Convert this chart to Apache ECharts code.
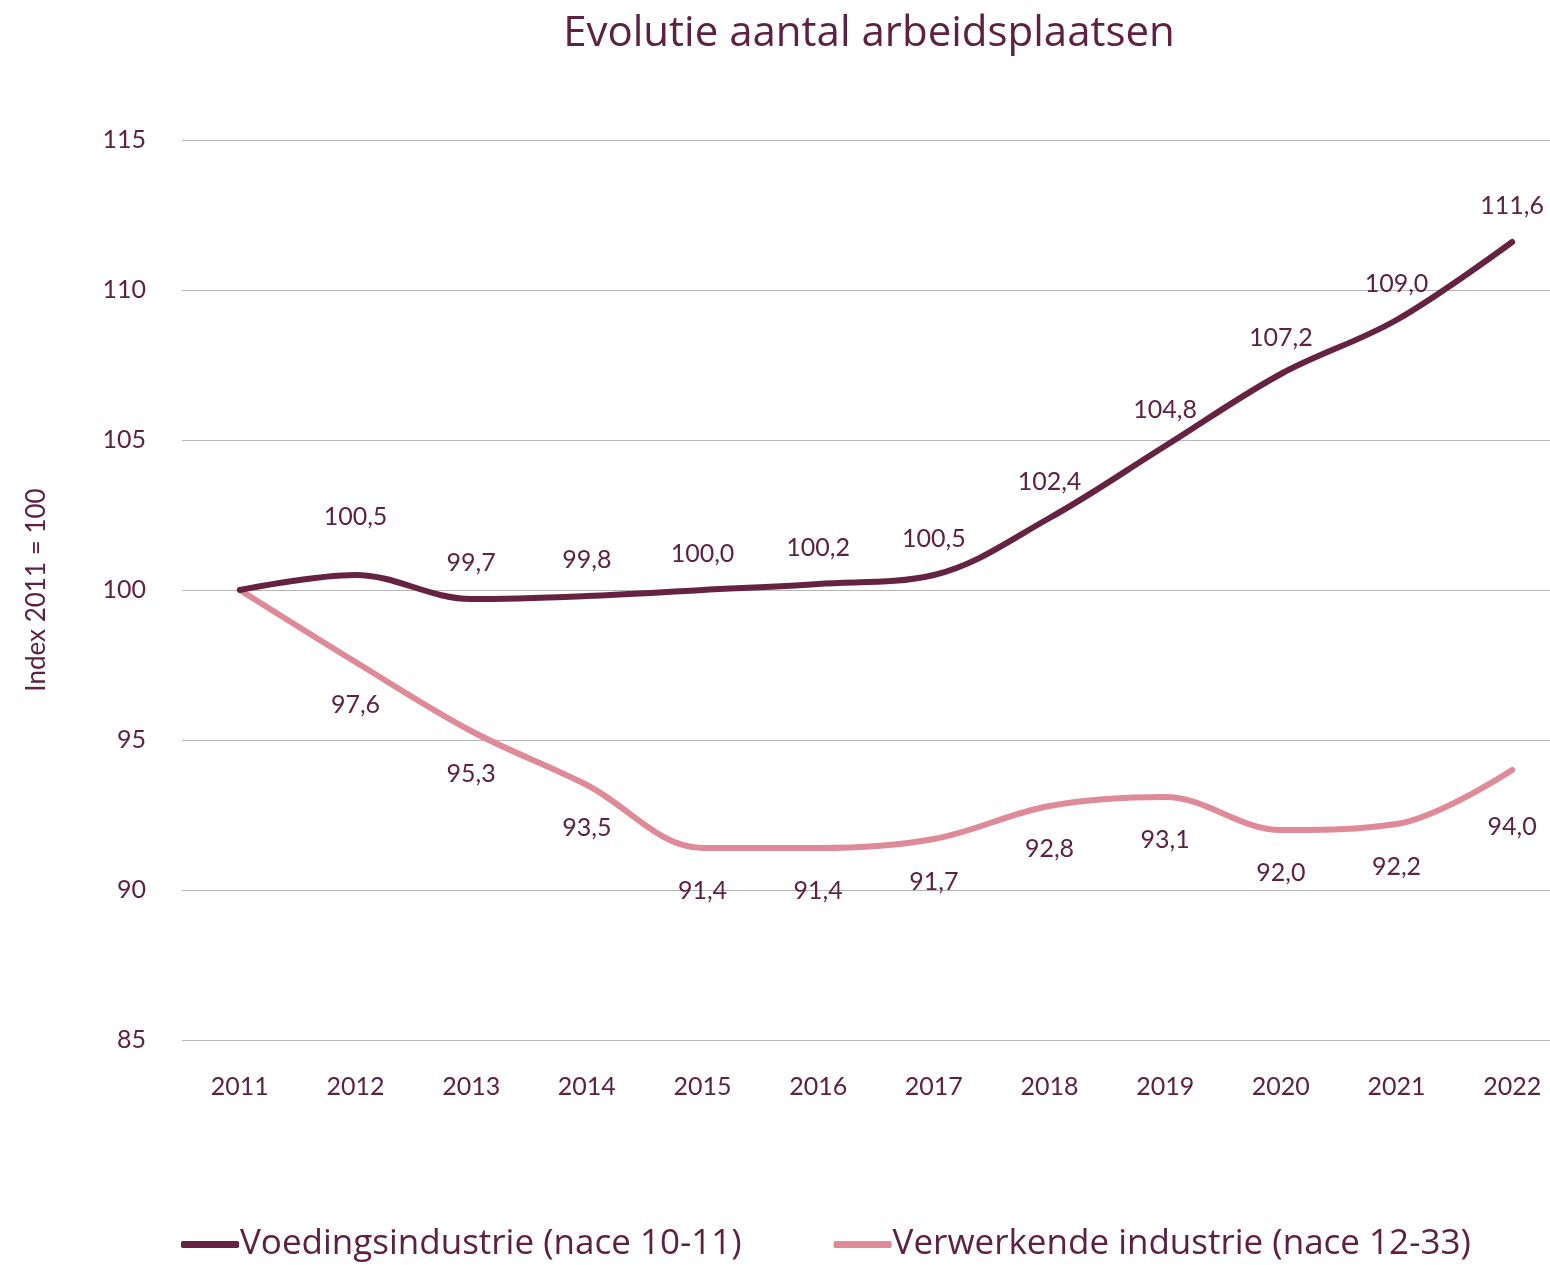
<!DOCTYPE html>
<html>
<head>
<meta charset="utf-8">
<script src="https://cdn.jsdelivr.net/npm/echarts@6/dist/echarts.min.js"></script>
<style>
  html, body { margin: 0; padding: 0; background: #fff; }
  #chart { width: 1550px; height: 1265px; }
</style>
</head>
<body>
<div id="chart"></div>
<script>
const years = ['2011', '2012', '2013', '2014', '2015', '2016', '2017', '2018', '2019', '2020', '2021', '2022']
const voeding = [100.0, 100.5, 99.7, 99.8, 100.0, 100.2, 100.5, 102.4, 104.8, 107.2, 109.0, 111.6]
const verwerkend = [100.0, 97.6, 95.3, 93.5, 91.4, 91.4, 91.7, 92.8, 93.1, 92.0, 92.2, 94.0]
const seriesNames = ['Voedingsindustrie (nace 10-11)', 'Verwerkende industrie (nace 12-33)']

const textColor = '#5e2142'
const fontFamily = 'Lato, "Open Sans", sans-serif'
const wideFont = '"Open Sans", Lato, sans-serif'

const chart = echarts.init(document.getElementById('chart'))

function fmt(p) {
  return p.value.toFixed(1).replace('.', ',')
}

// no label on the base year (index = 100)
function withLabels(values, extra) {
  return values.map(function (v, i) {
    if (i === 0) return { value: v, label: { show: false } }
    if (extra && extra[i]) return { value: v, label: extra[i] }
    return v
  })
}

chart.setOption({
  color: ['#662341', '#df8a99'],
  textStyle: { fontFamily: fontFamily, color: textColor },
  title: {
    text: 'Evolutie aantal arbeidsplaatsen',
    left: 864,
    textAlign: 'center',
    top: 8,
    textStyle: { color: textColor, fontSize: 42, fontWeight: 'normal', fontFamily: wideFont }
  },
  legend: {
    bottom: -2,
    left: 176,
    itemGap: 92,
    itemWidth: 58,
    itemHeight: 7,
    icon: 'roundRect',
    textStyle: { color: textColor, fontSize: 35, fontFamily: wideFont, padding: [0, 0, 0, -4] },
    data: seriesNames
  },
  grid: {
    left: 182,
    top: 140,
    width: 1388,
    bottom: 225,
    outerBoundsMode: 'none'
  },
  xAxis: {
    type: 'category',
    data: years,
    boundaryGap: true,
    axisLine: { show: false },
    axisTick: { show: false },
    axisLabel: { color: textColor, fontSize: 25, margin: 34, fontFamily: fontFamily }
  },
  yAxis: {
    type: 'value',
    min: 85,
    max: 115,
    interval: 5,
    name: 'Index 2011 = 100',
    nameLocation: 'center',
    nameGap: 132,
    nameTextStyle: { color: textColor, fontSize: 26, fontFamily: fontFamily },
    axisLine: { show: false },
    axisTick: { show: false },
    axisLabel: { color: textColor, fontSize: 25, margin: 36, fontFamily: fontFamily },
    splitLine: { lineStyle: { color: '#b5b5b5', width: 1.2 } }
  },
  series: [
    {
      name: seriesNames[0],
      type: 'line',
      data: withLabels(voeding, { 1: { distance: 46 } }),
      smooth: 0.35,
      symbol: 'circle',
      symbolSize: 0,
      showSymbol: true,
      lineStyle: { width: 6, cap: 'round' },
      label: {
        show: true,
        position: 'top',
        distance: 24,
        formatter: fmt,
        color: textColor,
        fontSize: 25,
        fontFamily: fontFamily
      },
      z: 3
    },
    {
      name: seriesNames[1],
      type: 'line',
      data: withLabels(verwerkend, { 11: { distance: 44 } }),
      smooth: 0.35,
      symbol: 'circle',
      symbolSize: 0,
      showSymbol: true,
      lineStyle: { width: 6, cap: 'round' },
      label: {
        show: true,
        position: 'bottom',
        distance: 30,
        formatter: fmt,
        color: textColor,
        fontSize: 25,
        fontFamily: fontFamily
      },
      z: 2
    }
  ]
})
</script>
</body>
</html>
